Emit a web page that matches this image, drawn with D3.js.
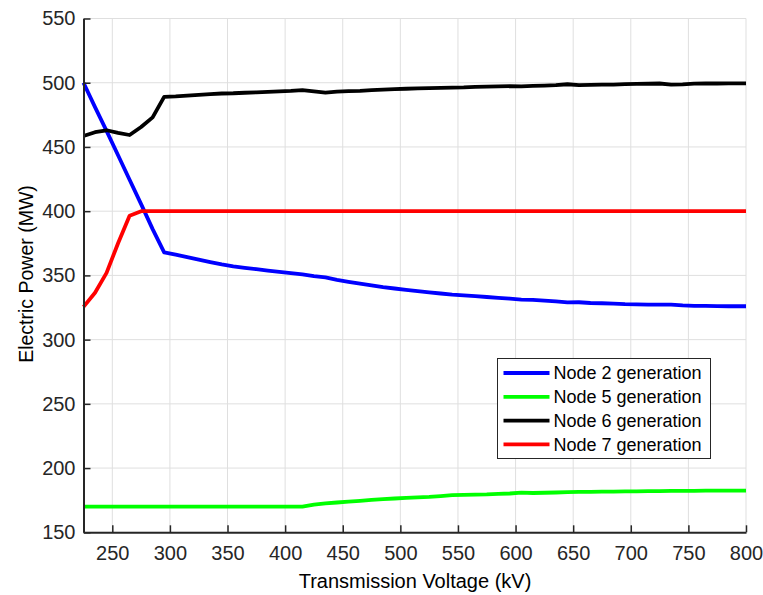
<!DOCTYPE html>
<html>
<head>
<meta charset="utf-8">
<script src="https://cdn.jsdelivr.net/npm/d3@7"></script>
<style>
body { margin: 0; background: #fff; }
svg { display: block; font-family: "Liberation Sans", Arial, sans-serif; }
</style>
</head>
<body>
<svg id="chart" width="763" height="595"></svg>
<script>
// transmission voltage (kV)
var voltage = [225, 235, 245, 255, 265, 275, 285, 295, 305, 315, 325, 335, 345, 355, 365, 375, 385, 395,
    405, 415, 425, 435, 445, 455, 465, 475, 485, 495, 505, 515, 525, 535, 545, 555, 565, 575, 585, 595,
    605, 615, 625, 635, 645, 655, 665, 675, 685, 695, 705, 715, 725, 735, 745, 755, 765, 775, 785, 795, 800];

var node2 = [500, 481, 462.5, 443.5, 424.5, 405.5, 386, 368, 366.2, 364.3, 362.3, 360.3, 358.5, 357, 355.8, 354.8, 353.8, 352.8,
    351.8, 350.8, 349.5, 348.5, 346.6, 345, 343.6, 342.2, 340.8, 339.8, 338.8, 337.8, 336.8, 335.9, 335, 334.4, 333.8, 333.2, 332.5, 331.9,
    331.2, 331, 330.4, 329.8, 329, 329.1, 328.5, 328.3, 328, 327.6, 327.4, 327.2, 327.2, 327.3, 326.6, 326.3, 326.2, 326.1, 326, 326, 326];

var node5 = [170, 170, 170, 170, 170, 170, 170, 170, 170, 170, 170, 170, 170, 170, 170, 170, 170, 170,
    170, 170, 171.5, 172.5, 173.2, 173.9, 174.5, 175.2, 175.8, 176.3, 176.8, 177.2, 177.6, 178.2, 178.9, 179.1, 179.3, 179.5, 179.9, 180.2,
    180.9, 180.6, 180.8, 181, 181.2, 181.4, 181.5, 181.6, 181.7, 181.8, 181.9, 182, 182.1, 182.2, 182.2, 182.3, 182.4, 182.4, 182.5, 182.5, 182.5];

var node6 = [458.5, 461.5, 463, 461, 459.3, 465.5, 473, 489, 489.3, 490, 490.6, 491.2, 491.6, 491.8, 492.2, 492.5, 492.8, 493.2,
    493.6, 494.2, 493.2, 492.3, 493, 493.4, 493.7, 494.2, 494.6, 495, 495.3, 495.6, 495.8, 496, 496.2, 496.4, 496.8, 497, 497.1, 497.3,
    497.1, 497.5, 497.8, 498.1, 498.8, 498.1, 498.4, 498.5, 498.5, 498.9, 499.1, 499.2, 499.4, 498.5, 498.7, 499.3, 499.4, 499.4, 499.5, 499.5, 499.5];

var node7 = [325.5, 336.5, 352, 375, 396.5, 400, 400, 400, 400, 400, 400, 400, 400, 400, 400, 400, 400, 400,
    400, 400, 400, 400, 400, 400, 400, 400, 400, 400, 400, 400, 400, 400, 400, 400, 400, 400, 400, 400,
    400, 400, 400, 400, 400, 400, 400, 400, 400, 400, 400, 400, 400, 400, 400, 400, 400, 400, 400, 400, 400];

var seriesNames = ["Node 2 generation", "Node 5 generation", "Node 6 generation", "Node 7 generation"];
var seriesColors = ["#0000ff", "#00ff00", "#000000", "#ff0000"];
var seriesValues = [node2, node5, node6, node7];

var xTicks = [250, 300, 350, 400, 450, 500, 550, 600, 650, 700, 750, 800];
var yTicks = [150, 200, 250, 300, 350, 400, 450, 500, 550];

var svg = d3.select("#chart");
var L = 83.5, R = 746, T = 18.5, B = 532.3;

var x = d3.scaleLinear().domain([225, 800]).range([L, R]);
var y = d3.scaleLinear().domain([150, 550]).range([B, T]);

// grid
var grid = svg.append("g");
grid.selectAll(".gx").data(xTicks).enter().append("line")
    .attr("x1", function (d) { return x(d); }).attr("x2", function (d) { return x(d); })
    .attr("y1", T).attr("y2", B)
    .attr("stroke", "#dfdfdf").attr("stroke-width", 1);
grid.selectAll(".gy").data(yTicks).enter().append("line")
    .attr("x1", L).attr("x2", R)
    .attr("y1", function (d) { return y(d); }).attr("y2", function (d) { return y(d); })
    .attr("stroke", "#dfdfdf").attr("stroke-width", 1);

// lines
var line = d3.line()
    .x(function (d, i) { return x(voltage[i]); })
    .y(function (d) { return y(d); });

svg.append("g").selectAll("path").data(seriesValues).enter().append("path")
    .attr("d", line)
    .attr("fill", "none")
    .attr("stroke", function (d, i) { return seriesColors[i]; })
    .attr("stroke-width", 3.8)
    .attr("stroke-linejoin", "round");

// axes
var xAxis = d3.axisBottom(x).tickValues(xTicks).tickSizeInner(-7).tickSizeOuter(0).tickPadding(14);
var yAxis = d3.axisLeft(y).tickValues(yTicks).tickSizeInner(-7).tickSizeOuter(0).tickPadding(8);

var gx = svg.append("g").attr("transform", "translate(0," + B + ")").call(xAxis);
var gy = svg.append("g").attr("transform", "translate(" + L + ",0)").call(yAxis);

[gx, gy].forEach(function (g) {
    g.select(".domain").attr("stroke", "#262626").attr("stroke-width", 2);
    g.selectAll(".tick line").attr("stroke", "#262626").attr("stroke-width", 1.5);
    g.selectAll(".tick text").attr("fill", "#262626").attr("font-size", 20)
        .attr("font-family", "Liberation Sans, Arial, sans-serif");
});

svg.append("text")
    .attr("x", 415).attr("y", 588)
    .attr("text-anchor", "middle")
    .attr("font-size", 20).attr("fill", "#000")
    .text("Transmission Voltage (kV)");

svg.append("text")
    .attr("transform", "translate(33," + 274 + ") rotate(-90)")
    .attr("text-anchor", "middle")
    .attr("font-size", 19.5).attr("fill", "#000")
    .text("Electric Power (MW)");

// legend
var lg = svg.append("g").attr("transform", "translate(497.5,358.5)");
lg.append("rect").attr("width", 213).attr("height", 100)
    .attr("fill", "#fff").attr("stroke", "#262626").attr("stroke-width", 1);
var rows = lg.selectAll(".row").data(seriesNames).enter().append("g")
    .attr("transform", function (d, i) { return "translate(0," + (14.5 + i * 23.8) + ")"; });
rows.append("line").attr("x1", 6).attr("x2", 52).attr("y1", 0).attr("y2", 0)
    .attr("stroke", function (d, i) { return seriesColors[i]; }).attr("stroke-width", 3.8);
rows.append("text").attr("x", 56).attr("y", 6.3)
    .attr("font-size", 18).attr("fill", "#000")
    .text(function (d) { return d; });
</script>
</body>
</html>
